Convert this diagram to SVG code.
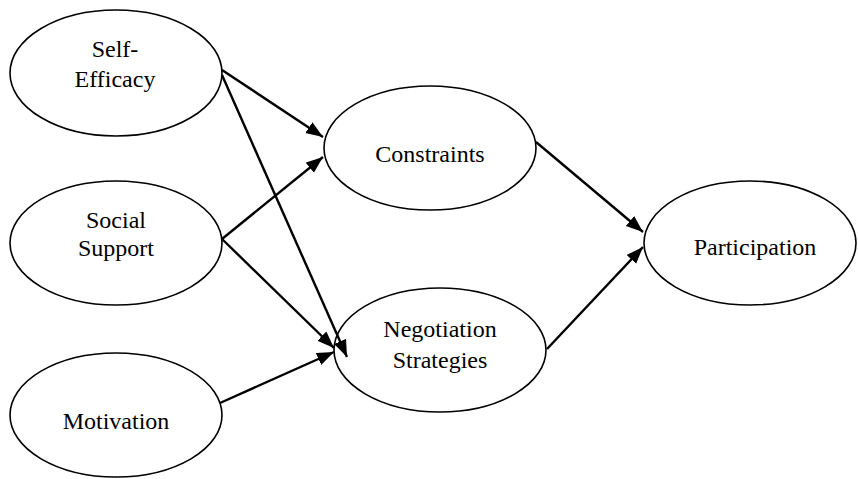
<svg xmlns="http://www.w3.org/2000/svg" width="858" height="479" viewBox="0 0 858 479">
<style>
.node ellipse{fill:#fff;stroke:#000;stroke-width:1.6}
.node text{font-family:'Liberation Serif','Times New Roman',serif;font-size:24px;fill:#000;text-anchor:middle}
#connectors line{stroke:#000;stroke-width:2.4;fill:none}
</style>
<defs>
<marker id="ah" markerUnits="userSpaceOnUse" markerWidth="18" markerHeight="14" refX="17" refY="6.5" orient="auto">
<path d="M0,0 L17,6.5 L0,13 z" fill="#000"/>
</marker>
</defs>
<rect width="858" height="479" fill="#fff"/>
<g id="se" class="node">
<ellipse cx="116" cy="73" rx="106" ry="63"/>
<text x="115" y="57">Self-</text>
<text x="115" y="87">Efficacy</text>
</g>
<g id="ss" class="node">
<ellipse cx="116" cy="243" rx="106" ry="62"/>
<text x="116" y="228">Social</text>
<text x="116" y="256">Support</text>
</g>
<g id="mo" class="node">
<ellipse cx="116" cy="415" rx="106" ry="62"/>
<text x="116" y="429">Motivation</text>
</g>
<g id="co" class="node">
<ellipse cx="430" cy="148" rx="106" ry="62"/>
<text x="430" y="162">Constraints</text>
</g>
<g id="ns" class="node">
<ellipse cx="440" cy="350" rx="106" ry="62"/>
<text x="440" y="337">Negotiation</text>
<text x="440" y="368">Strategies</text>
</g>
<g id="pa" class="node">
<ellipse cx="750" cy="243" rx="106" ry="62"/>
<text x="755" y="255">Participation</text>
</g>
<g id="connectors">
<line x1="222" y1="70" x2="323" y2="137" marker-end="url(#ah)"/>
<line x1="222" y1="75" x2="347" y2="357" marker-end="url(#ah)"/>
<line x1="222" y1="239" x2="323" y2="157" marker-end="url(#ah)"/>
<line x1="222" y1="239" x2="334" y2="348" marker-end="url(#ah)"/>
<line x1="220" y1="403" x2="334" y2="352" marker-end="url(#ah)"/>
<line x1="536" y1="142" x2="643" y2="232" marker-end="url(#ah)"/>
<line x1="547" y1="349" x2="643" y2="247" marker-end="url(#ah)"/>
</g>
</svg>
